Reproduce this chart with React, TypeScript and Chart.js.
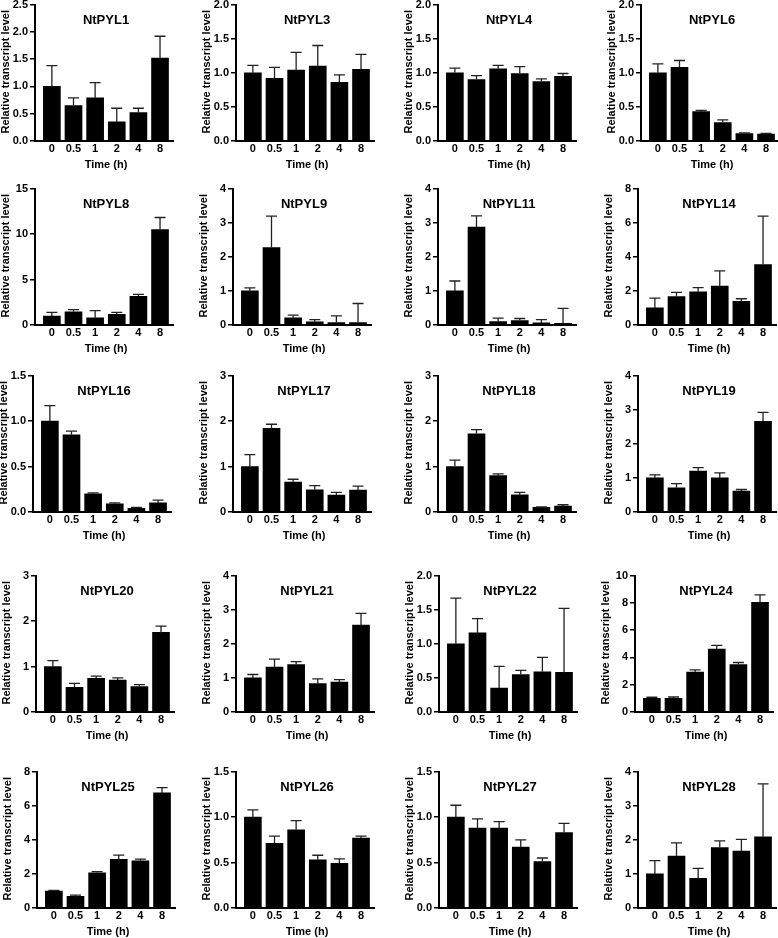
import React, { useEffect, useRef } from 'react';
import { Chart, registerables } from 'chart.js';

Chart.register(...registerables);

// ---------------- data ----------------
const timeLabels = ['0', '0.5', '1', '2', '4', '8'];

const geneNames = [
  'NtPYL1', 'NtPYL3', 'NtPYL4', 'NtPYL6',
  'NtPYL8', 'NtPYL9', 'NtPYL11', 'NtPYL14',
  'NtPYL16', 'NtPYL17', 'NtPYL18', 'NtPYL19',
  'NtPYL20', 'NtPYL21', 'NtPYL22', 'NtPYL24',
  'NtPYL25', 'NtPYL26', 'NtPYL27', 'NtPYL28',
];

const yMaxes = [2.5, 2, 2, 2, 15, 4, 4, 8, 1.5, 3, 3, 4, 3, 4, 2, 10, 8, 1.5, 1.5, 4];
const ySteps = [0.5, 0.5, 0.5, 0.5, 5, 1, 1, 2, 0.5, 1, 1, 1, 1, 1, 0.5, 2, 2, 0.5, 0.5, 1];

const pyl1Mean = [1.0, 0.65, 0.79, 0.35, 0.52, 1.52];
const pyl1Err = [0.38, 0.14, 0.28, 0.25, 0.08, 0.40];
const pyl3Mean = [1.0, 0.92, 1.04, 1.10, 0.86, 1.05];
const pyl3Err = [0.11, 0.16, 0.26, 0.30, 0.11, 0.22];
const pyl4Mean = [1.0, 0.90, 1.06, 0.99, 0.87, 0.95];
const pyl4Err = [0.07, 0.06, 0.05, 0.10, 0.04, 0.04];
const pyl6Mean = [1.0, 1.08, 0.43, 0.27, 0.11, 0.10];
const pyl6Err = [0.13, 0.10, 0.02, 0.04, 0.01, 0.01];
const pyl8Mean = [0.99, 1.46, 0.80, 1.17, 3.15, 10.5];
const pyl8Err = [0.40, 0.22, 0.77, 0.22, 0.22, 1.32];
const pyl9Mean = [1.0, 2.27, 0.21, 0.09, 0.07, 0.07];
const pyl9Err = [0.09, 0.92, 0.08, 0.07, 0.20, 0.56];
const pyl11Mean = [1.0, 2.87, 0.10, 0.13, 0.06, 0.05];
const pyl11Err = [0.29, 0.33, 0.10, 0.06, 0.10, 0.44];
const pyl14Mean = [1.0, 1.66, 1.95, 2.28, 1.39, 3.55];
const pyl14Err = [0.58, 0.25, 0.24, 0.90, 0.15, 2.83];
const pyl16Mean = [1.0, 0.85, 0.20, 0.09, 0.04, 0.10];
const pyl16Err = [0.17, 0.04, 0.01, 0.01, 0.01, 0.03];
const pyl17Mean = [1.0, 1.84, 0.66, 0.49, 0.37, 0.48];
const pyl17Err = [0.26, 0.09, 0.06, 0.09, 0.06, 0.09];
const pyl18Mean = [1.0, 1.72, 0.80, 0.38, 0.10, 0.13];
const pyl18Err = [0.14, 0.09, 0.04, 0.05, 0.01, 0.03];
const pyl19Mean = [1.0, 0.71, 1.20, 1.0, 0.61, 2.66];
const pyl19Err = [0.09, 0.12, 0.10, 0.15, 0.05, 0.26];
const pyl20Mean = [1.0, 0.54, 0.74, 0.70, 0.56, 1.75];
const pyl20Err = [0.13, 0.09, 0.05, 0.05, 0.04, 0.14];
const pyl21Mean = [1.0, 1.32, 1.39, 0.83, 0.88, 2.55];
const pyl21Err = [0.10, 0.23, 0.09, 0.14, 0.07, 0.34];
const pyl22Mean = [1.0, 1.16, 0.35, 0.55, 0.59, 0.58];
const pyl22Err = [0.67, 0.21, 0.32, 0.06, 0.21, 0.94];
const pyl24Mean = [1.0, 1.0, 2.92, 4.61, 3.48, 8.04];
const pyl24Err = [0.08, 0.10, 0.17, 0.27, 0.15, 0.54];
const pyl25Mean = [0.99, 0.68, 2.07, 2.85, 2.77, 6.75];
const pyl25Err = [0.04, 0.08, 0.06, 0.25, 0.10, 0.31];
const pyl26Mean = [1.0, 0.71, 0.86, 0.53, 0.49, 0.77];
const pyl26Err = [0.08, 0.08, 0.10, 0.05, 0.05, 0.02];
const pyl27Mean = [1.0, 0.88, 0.88, 0.67, 0.51, 0.83];
const pyl27Err = [0.13, 0.10, 0.07, 0.08, 0.04, 0.10];
const pyl28Mean = [1.0, 1.52, 0.87, 1.77, 1.67, 2.09];
const pyl28Err = [0.39, 0.39, 0.29, 0.20, 0.34, 1.55];

const meanSeries = [
  pyl1Mean, pyl3Mean, pyl4Mean, pyl6Mean,
  pyl8Mean, pyl9Mean, pyl11Mean, pyl14Mean,
  pyl16Mean, pyl17Mean, pyl18Mean, pyl19Mean,
  pyl20Mean, pyl21Mean, pyl22Mean, pyl24Mean,
  pyl25Mean, pyl26Mean, pyl27Mean, pyl28Mean,
];
const errSeries = [
  pyl1Err, pyl3Err, pyl4Err, pyl6Err,
  pyl8Err, pyl9Err, pyl11Err, pyl14Err,
  pyl16Err, pyl17Err, pyl18Err, pyl19Err,
  pyl20Err, pyl21Err, pyl22Err, pyl24Err,
  pyl25Err, pyl26Err, pyl27Err, pyl28Err,
];

// ---------------- layout ----------------
const rowTops = [4, 188, 375, 575, 771];
const colAxisX = [
  [35, 236, 438, 641],
  [35, 233, 438, 638],
  [33, 233, 438, 638],
  [36, 236, 439, 635],
  [37, 236, 439, 638],
];
const PLOT_W = 138;
const PLOT_H = 137;
const PAD_L = 44;
const PAD_T = 8;
const PAD_R = 4;
const PAD_B = 34;
const CANVAS_W = PAD_L + PLOT_W + PAD_R;
const CANVAS_H = PAD_T + PLOT_H + PAD_B;
const FONT = '"Liberation Sans", Arial, Helvetica, sans-serif';

function decimalsFor(step: number) {
  return step < 1 ? 1 : 0;
}

function makeDecoPlugin(title: string, errs: number[]) {
  return {
    id: 'deco_' + title,
    afterDatasetsDraw(chart: any) {
      const ctx = chart.ctx;
      const meta = chart.getDatasetMeta(0);
      const yScale = chart.scales.y;
      ctx.save();
      ctx.strokeStyle = '#222';
      ctx.lineWidth = 1.3;
      meta.data.forEach((el: any, i: number) => {
        const raw = chart.data.datasets[0].data[i];
        const v = raw.y + errs[i];
        const yTop = yScale.getPixelForValue(v);
        const x = el.x;
        ctx.beginPath();
        ctx.moveTo(x, el.y);
        ctx.lineTo(x, yTop);
        ctx.moveTo(x - 5.5, yTop);
        ctx.lineTo(x + 5.5, yTop);
        ctx.stroke();
      });
      ctx.restore();
    },
    afterDraw(chart: any) {
      const ctx = chart.ctx;
      const a = chart.chartArea;
      const cx = (a.left + a.right) / 2;
      ctx.save();
      ctx.fillStyle = '#000';
      ctx.textAlign = 'center';
      ctx.textBaseline = 'middle';
      ctx.font = 'bold 13px ' + FONT;
      ctx.fillText(title, cx + 2, a.top + 16);
      ctx.font = 'bold 11px ' + FONT;
      ctx.fillText('Time (h)', cx + 2, a.bottom + 24);
      ctx.translate(a.left - 29, (a.top + a.bottom) / 2 - 1);
      ctx.rotate(-Math.PI / 2);
      ctx.fillText('Relative transcript level', 0, 0);
      ctx.restore();
    },
  };
}

export default function App() {
  const refs = useRef<(HTMLCanvasElement | null)[]>([]);

  useEffect(() => {
    const charts: Chart[] = [];
    geneNames.forEach((name, i) => {
      const canvas = refs.current[i];
      if (!canvas) return;
      const means = meanSeries[i];
      const errs = errSeries[i];
      const step = ySteps[i];
      const dec = decimalsFor(step);
      const chart = new Chart(canvas, {
        type: 'bar',
        data: {
          datasets: [
            {
              data: means.map((v, k) => ({ x: k, y: v })),
              backgroundColor: '#000',
              borderWidth: 0,
              barThickness: 17,
            } as any,
          ],
        },
        options: {
          responsive: false,
          animation: false,
          events: [],
          layout: { padding: { top: PAD_T, right: PAD_R, left: 0, bottom: 0 } },
          plugins: {
            legend: { display: false },
            tooltip: { enabled: false },
            title: { display: false },
          },
          scales: {
            x: {
              type: 'linear',
              offset: false,
              min: -0.78,
              max: 5.6,
              afterFit: (s: any) => {
                s.height = PAD_B;
              },
              grid: { display: false, drawTicks: false },
              border: { display: true, color: '#000', width: 2 },
              ticks: {
                stepSize: 1,
                includeBounds: false,
                autoSkip: false,
                maxRotation: 0,
                minRotation: 0,
                padding: 1,
                color: '#000',
                font: { family: FONT, size: 11, weight: 'bold' },
                callback: (v: any) => timeLabels[v as number] ?? '',
              },
            } as any,
            y: {
              min: 0,
              max: yMaxes[i],
              afterFit: (s: any) => {
                s.width = PAD_L;
              },
              grid: {
                drawOnChartArea: false,
                drawTicks: true,
                tickLength: 5,
                color: '#000',
                lineWidth: 1.5,
              },
              border: { display: true, color: '#000', width: 2 },
              ticks: {
                stepSize: step,
                padding: 2,
                color: '#000',
                font: { family: FONT, size: 11, weight: 'bold' },
                callback: (v: any) => Number(v).toFixed(dec),
              },
            } as any,
          },
        },
        plugins: [makeDecoPlugin(name, errs)],
      });
      charts.push(chart);
    });
    return () => charts.forEach((c) => c.destroy());
  }, []);

  return (
    <div
      style={{
        position: 'absolute',
        left: 0,
        top: 0,
        width: 778,
        height: 938,
        overflow: 'hidden',
        background: '#fff',
      }}
    >
      {geneNames.map((name, i) => {
        const r = Math.floor(i / 4);
        const c = i % 4;
        return (
          <canvas
            key={name}
            ref={(el) => {
              refs.current[i] = el;
            }}
            width={CANVAS_W}
            height={CANVAS_H}
            style={{
              position: 'absolute',
              left: colAxisX[r][c] - PAD_L,
              top: rowTops[r] - PAD_T,
              width: CANVAS_W,
              height: CANVAS_H,
            }}
          />
        );
      })}
    </div>
  );
}
